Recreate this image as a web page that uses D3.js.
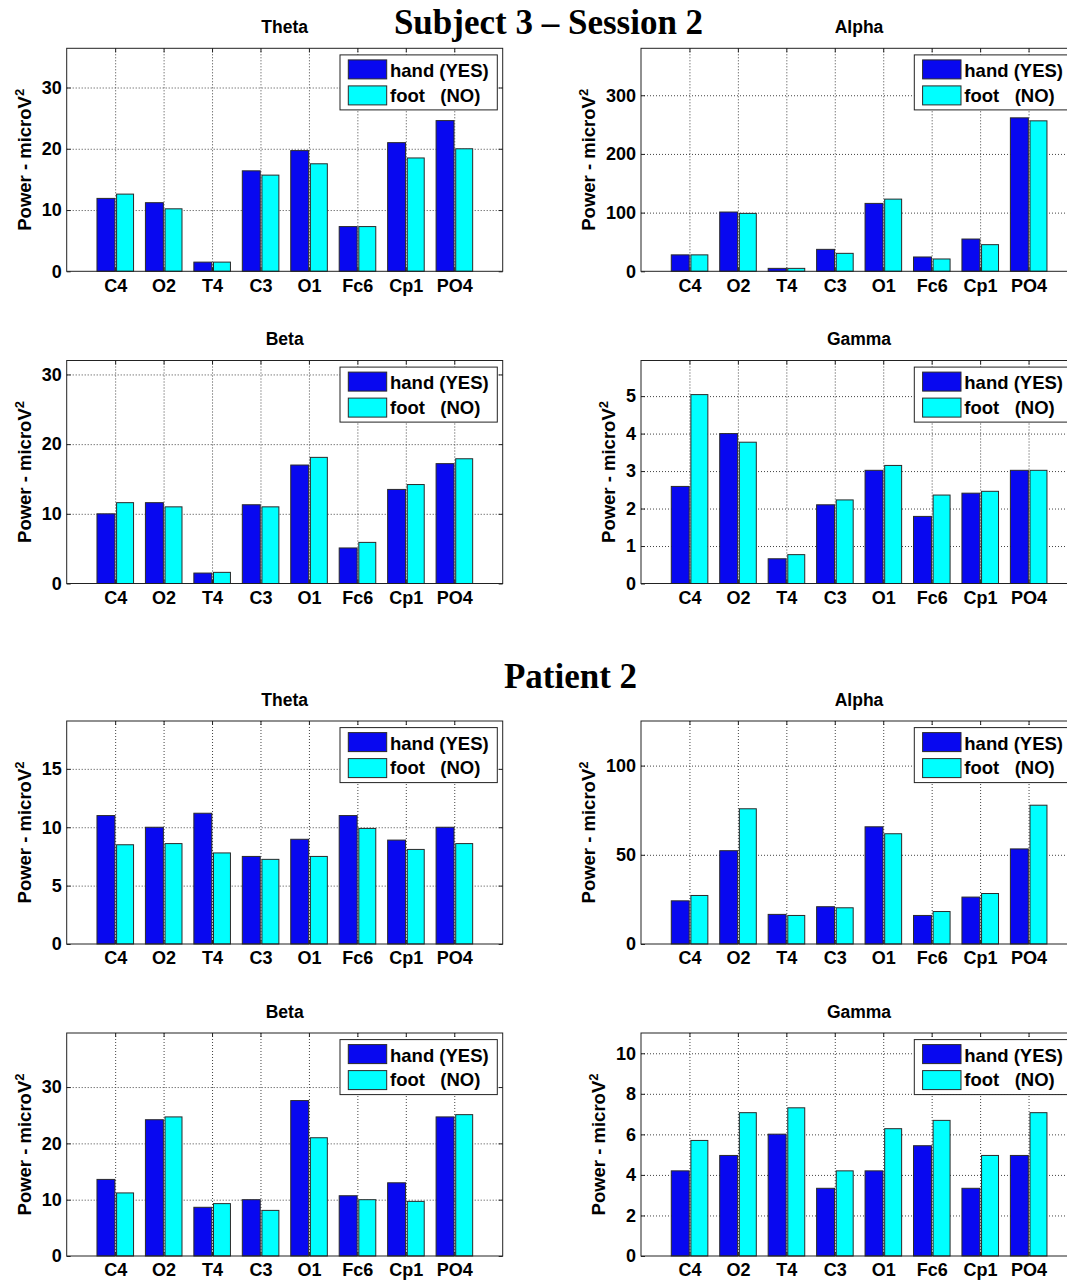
<!DOCTYPE html>
<html>
<head>
<meta charset="utf-8">
<script src="https://cdn.jsdelivr.net/npm/d3@7"></script>
<style>
  body { margin: 0; background: #fff; }
  svg { display: block; font-family: 'Liberation Sans', Arial, sans-serif; }
  .grid line { stroke: #444; stroke-dasharray: 1,2; stroke-width: 1; }
  .grid .domain { display: none; }
  .axis .domain { display: none; }
  .axis line { stroke: #222; }
  .axis text { font-size: 18px; font-weight: bold; fill: #000; }
</style>
</head>
<body>
<script>
'use strict';

// Channels along the x axis
var channels = ['C4', 'O2', 'T4', 'C3', 'O1', 'Fc6', 'Cp1', 'PO4'];
var seriesNames = ['hand (YES)', 'foot   (NO)'];

// Subject 3 - Session 2
var subjThetaHand = [11.9, 11.2, 1.5, 16.4, 19.7, 7.3, 21.0, 24.6];
var subjThetaFoot = [12.6, 10.2, 1.5, 15.7, 17.55, 7.3, 18.5, 20.0];
var subjAlphaHand = [28, 101, 5, 37.4, 115.7, 24.4, 55, 261.5];
var subjAlphaFoot = [28, 98.7, 5, 30.6, 123, 21, 45.4, 256.4];
var subjBetaHand = [10.0, 11.6, 1.5, 11.3, 17.0, 5.1, 13.5, 17.2];
var subjBetaFoot = [11.6, 11.0, 1.6, 11.0, 18.1, 5.9, 14.2, 17.9];
var subjGammaHand = [2.59, 4.0, 0.66, 2.10, 3.02, 1.79, 2.41, 3.02];
var subjGammaFoot = [5.04, 3.77, 0.77, 2.23, 3.15, 2.36, 2.46, 3.02];

// Patient 2
var patThetaHand = [11.0, 10.0, 11.2, 7.5, 8.97, 11.0, 8.9, 10.0];
var patThetaFoot = [8.5, 8.6, 7.8, 7.25, 7.5, 9.9, 8.1, 8.6];
var patAlphaHand = [24.2, 52.3, 16.6, 20.9, 65.7, 16.0, 26.3, 53.3];
var patAlphaFoot = [27.2, 75.8, 16.0, 20.3, 61.8, 18.2, 28.3, 77.8];
var patBetaHand = [13.6, 24.2, 8.65, 10.0, 27.6, 10.7, 13.0, 24.7];
var patBetaFoot = [11.2, 24.7, 9.3, 8.1, 21.0, 10.0, 9.7, 25.1];
var patGammaHand = [4.2, 4.96, 6.01, 3.34, 4.2, 5.44, 3.34, 4.96];
var patGammaFoot = [5.7, 7.07, 7.31, 4.2, 6.28, 6.69, 4.96, 7.07];

// y limits and ticks, panel order: subj theta, alpha, beta, gamma, pat theta, alpha, beta, gamma
var yMaxes = [36.4, 380, 32, 5.95, 19.1, 125, 39.6, 11];
var yTicks = [
  [0, 10, 20, 30], [0, 100, 200, 300], [0, 10, 20, 30], [0, 1, 2, 3, 4, 5],
  [0, 5, 10, 15], [0, 50, 100], [0, 10, 20, 30], [0, 2, 4, 6, 8, 10]
];
var titles = ['Theta', 'Alpha', 'Beta', 'Gamma', 'Theta', 'Alpha', 'Beta', 'Gamma'];
var handData = [subjThetaHand, subjAlphaHand, subjBetaHand, subjGammaHand,
                patThetaHand, patAlphaHand, patBetaHand, patGammaHand];
var footData = [subjThetaFoot, subjAlphaFoot, subjBetaFoot, subjGammaFoot,
                patThetaFoot, patAlphaFoot, patBetaFoot, patGammaFoot];

// Layout
var W = 1067, H = 1282;
var colLeft = [66.7, 641];
var rowTop = [48.3, 360.5, 721, 1033];
var plotW = 436, plotH = 223;
var colors = ['#0808f0', '#00ffff'];
// bar extents relative to the category position (x units)
var barSpan = [[-0.375, -0.005], [0.03, 0.38]];

var svg = d3.select('body').append('svg')
  .attr('width', W)
  .attr('height', H);

svg.append('rect').attr('width', W).attr('height', H).attr('fill', '#fff');

// Main headings
svg.append('text')
  .attr('x', 548.5).attr('y', 34)
  .attr('text-anchor', 'middle')
  .style('font-family', "'Liberation Serif', 'Times New Roman', serif")
  .style('font-weight', 'bold')
  .style('font-size', '35px')
  .text('Subject 3 \u2013 Session 2');

svg.append('text')
  .attr('x', 570.5).attr('y', 688)
  .attr('text-anchor', 'middle')
  .style('font-family', "'Liberation Serif', 'Times New Roman', serif")
  .style('font-weight', 'bold')
  .style('font-size', '35px')
  .text('Patient 2');

function drawPanel(idx) {
  var left = colLeft[idx % 2];
  var top = rowTop[Math.floor(idx / 2)];
  var bottom = top + plotH;
  var x = d3.scaleLinear().domain([0, 9]).range([left, left + plotW]);
  var y = d3.scaleLinear().domain([0, yMaxes[idx]]).range([bottom, top]);
  var cats = d3.range(1, channels.length + 1);

  var g = svg.append('g').attr('class', 'panel');

  // Grid (under bars)
  g.append('g').attr('class', 'grid')
    .attr('transform', 'translate(0,' + bottom + ')')
    .call(d3.axisBottom(x).tickValues(cats).tickSize(-plotH).tickFormat(''));
  g.append('g').attr('class', 'grid')
    .attr('transform', 'translate(' + left + ',0)')
    .call(d3.axisLeft(y).tickValues(yTicks[idx].filter(function (d) { return d > 0; }))
      .tickSize(-plotW).tickFormat(''));

  // Bars
  [handData[idx], footData[idx]].forEach(function (vals, si) {
    g.append('g').selectAll('rect')
      .data(vals)
      .join('rect')
      .attr('x', function (d, i) { return x(i + 1 + barSpan[si][0]); })
      .attr('width', x(barSpan[si][1]) - x(barSpan[si][0]))
      .attr('y', function (d) { return y(d); })
      .attr('height', function (d) { return bottom - y(d); })
      .attr('fill', colors[si])
      .attr('stroke', '#2a2a2a')
      .attr('stroke-width', 1);
  });

  // Axes box
  g.append('rect')
    .attr('x', left).attr('y', top)
    .attr('width', plotW).attr('height', plotH)
    .attr('fill', 'none')
    .attr('stroke', '#222')
    .attr('stroke-width', 1);

  // Tick marks + labels
  g.append('g').attr('class', 'axis')
    .attr('transform', 'translate(0,' + bottom + ')')
    .call(d3.axisBottom(x).tickValues(cats).tickSize(-4).tickPadding(7.5)
      .tickFormat(function (d) { return channels[d - 1]; }));
  g.append('g').attr('class', 'axis')
    .attr('transform', 'translate(0,' + top + ')')
    .call(d3.axisTop(x).tickValues(cats).tickSize(-4).tickFormat(''));
  var yAx = g.append('g').attr('class', 'axis')
    .attr('transform', 'translate(' + left + ',0)')
    .call(d3.axisLeft(y).tickValues(yTicks[idx]).tickSize(-4).tickPadding(5)
      .tickFormat(d3.format('d')));
  g.append('g').attr('class', 'axis')
    .attr('transform', 'translate(' + (left + plotW) + ',0)')
    .call(d3.axisRight(y).tickValues(yTicks[idx]).tickSize(-4).tickFormat(''));

  // Y label placed from the tick label width
  var tickW = d3.max(yAx.selectAll('text').nodes(), function (n) { return n.getComputedTextLength(); });
  var lx = left - 5 - tickW - 11;
  var lab = g.append('text')
    .attr('transform', 'translate(' + lx + ',' + (top + plotH / 2) + ') rotate(-90)')
    .attr('text-anchor', 'middle')
    .style('font-size', '18.5px')
    .style('font-weight', 'bold');
  lab.append('tspan').text('Power - microV');
  lab.append('tspan').attr('dy', -7).style('font-size', '13px').text('2');

  // Title
  g.append('text')
    .attr('x', left + plotW / 2).attr('y', top - 15.5)
    .attr('text-anchor', 'middle')
    .style('font-size', '17.5px')
    .style('font-weight', 'bold')
    .text(titles[idx]);

  // Legend
  var lw = 157.3, lh = 55;
  var lg = g.append('g')
    .attr('transform', 'translate(' + (left + plotW - 5.4 - lw) + ',' + (top + 6.6) + ')');
  lg.append('rect')
    .attr('width', lw).attr('height', lh)
    .attr('fill', '#fff').attr('stroke', '#222');
  seriesNames.forEach(function (name, si) {
    lg.append('rect')
      .attr('x', 8.3).attr('y', 5 + si * 26)
      .attr('width', 38.4).attr('height', 19)
      .attr('fill', colors[si]).attr('stroke', '#2a2a2a');
    lg.append('text')
      .attr('x', 50).attr('y', 22.3 + si * 24.5)
      .style('font-size', '18.5px')
      .style('font-weight', 'bold')
      .style('white-space', 'pre')
      .text(name);
  });
}

d3.range(8).forEach(drawPanel);
</script>
</body>
</html>
